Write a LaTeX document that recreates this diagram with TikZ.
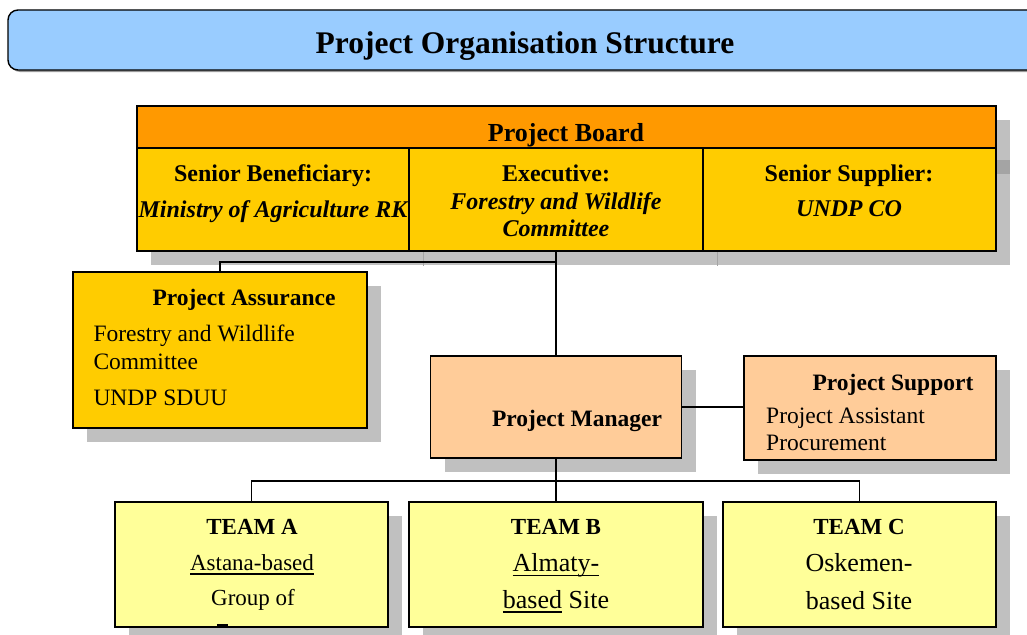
\documentclass[tikz,border=0pt]{standalone}
\usepackage{fontspec}
\setmainfont{Liberation Serif}
\usetikzlibrary{shadows}
\definecolor{titleblue}{HTML}{99CCFF}
\definecolor{boardorange}{HTML}{FF9900}
\definecolor{gold}{HTML}{FFCC00}
\definecolor{peach}{HTML}{FFCC99}
\definecolor{paleyellow}{HTML}{FFFF99}
\definecolor{shadowgray}{HTML}{C0C0C0}
\definecolor{shadowdark}{HTML}{A4A4A4}
\newcommand\fsz[1]{\fontsize{#1}{#1}\selectfont}
% underline with a heavier rule set a little below the baseline
\newcommand\ulword[1]{\setbox0\hbox{#1}\rlap{\rule[-4.5pt]{\wd0}{1.5pt}}\box0\relax}
\begin{document}
\begin{tikzpicture}[x=1pt,y=-1pt,
  box/.style={draw=black,line width=1.4pt,inner sep=0pt,outer sep=0pt},
  shadowed/.style={drop shadow={shadow xshift=14pt,shadow yshift=-14pt,fill=shadowgray,opacity=1}},
  conn/.style={draw=black,line width=1.4pt},
  lbl/.style={inner sep=0pt,anchor=base},
  lbll/.style={inner sep=0pt,anchor=base west},
  hd/.style={font=\bfseries\fsz{23.5}},
  bodytxt/.style={font=\fsz{23.5}},
]
\useasboundingbox (0,0) rectangle (1027,634);
\clip (0,0) rectangle (1027,634);

% title banner
\fill[gray!80,rounded corners=10pt] (10,12) rectangle (1050,72);
\filldraw[fill=titleblue,draw=black,line width=1.4pt,rounded corners=10pt] (8,10) rectangle (1048,70);
\node[lbl,font=\bfseries\fsz{31.5}] (title) at (525,54) {Project Organisation Structure};

% project board
\node[box,shadowed,fill=gold,minimum width=859pt,minimum height=145pt] (board) at (566.5,178.5) {};
\fill[shadowdark] (997,160) rectangle (1010,174);
\draw[shadowdark,line width=1pt] (423,252) -- (423,266) (717,252) -- (717,266);
\node[box,fill=boardorange,minimum width=859pt,minimum height=42pt] (hdr) at (566.5,127) {};
\node[box,fill=gold,minimum width=272pt,minimum height=103pt] (sb) at (273,199.5) {};
\node[box,fill=gold,minimum width=294pt,minimum height=103pt] (ex) at (556,199.5) {};
\node[box,fill=gold,minimum width=293pt,minimum height=103pt] (ss) at (849.5,199.5) {};

\node[lbl,font=\bfseries\fsz{26}] (hdrtxt) at (566,141.7) {Project Board};
\node[lbl,font=\bfseries\fsz{24}] (sbt1) at (273,181.7) {Senior Beneficiary:};
\node[lbl,font=\bfseries\itshape\fsz{24}] (sbt2) at (273,217) {Ministry of Agriculture RK};
\node[lbl,font=\bfseries\fsz{24}] (ext1) at (556,181.7) {Executive:};
\node[lbl,font=\bfseries\itshape\fsz{24}] (ext2) at (556,209) {Forestry and Wildlife};
\node[lbl,font=\bfseries\itshape\fsz{24}] (ext3) at (556,236.7) {Committee};
\node[lbl,font=\bfseries\fsz{24}] (sst1) at (849,181.7) {Senior Supplier:};
\node[lbl,font=\bfseries\itshape\fsz{24}] (sst2) at (849,216.7) {UNDP CO};

% project assurance
\node[box,shadowed,fill=gold,minimum width=294pt,minimum height=156pt] (pa) at (220,350) {};
\node[lbl,hd] (pat1) at (244,305.7) {Project Assurance};
\node[lbll,bodytxt] (pat2) at (93.3,341) {Forestry and Wildlife};
\node[lbll,bodytxt] (pat3) at (93.3,369) {Committee};
\node[lbll,bodytxt] (pat4) at (93.3,405) {UNDP SDUU};

% project manager and support
\node[box,shadowed,fill=peach,minimum width=251pt,minimum height=102pt] (pm) at (556,407) {};
\node[lbl,hd] (pmt) at (577,426) {Project Manager};
\node[box,shadowed,fill=peach,minimum width=252pt,minimum height=104pt] (ps) at (870,408) {};
\node[lbl,hd] (pst1) at (893,390) {Project Support};
\node[lbll,bodytxt] (pst2) at (766,423) {Project Assistant};
\node[lbll,bodytxt] (pst3) at (766,450) {Procurement};

% teams
\node[box,shadowed,fill=paleyellow,minimum width=273pt,minimum height=125pt] (ta) at (251.5,564.5) {};
\node[box,shadowed,fill=paleyellow,minimum width=294pt,minimum height=125pt] (tb) at (556,564.5) {};
\node[box,shadowed,fill=paleyellow,minimum width=273pt,minimum height=125pt] (tc) at (859.5,564.5) {};

\node[lbl,font=\bfseries\fsz{23}] (tat1) at (252,534) {TEAM A};
\node[lbl,font=\fsz{23}] (tat2) at (252,570) {\ulword{Astana-based}};
\node[lbl,font=\fsz{23}] (tat3) at (253,605) {Group of};
\fill (217,623.5) rectangle (228,626.5);

\node[lbl,font=\bfseries\fsz{23}] (tbt1) at (556,534) {TEAM B};
\node[lbl,font=\fsz{26}] (tbt2) at (556,571.7) {\ulword{Almaty-}};
\node[lbl,font=\fsz{26}] (tbt3) at (556,608.3) {\ulword{based} Site};

\node[lbl,font=\bfseries\fsz{23}] (tct1) at (859,534) {TEAM C};
\node[lbl,font=\fsz{26}] (tct2) at (859,571.7) {Oskemen-};
\node[lbl,font=\fsz{26}] (tct3) at (859,609) {based Site};

% connectors
\coordinate (j1) at (556,262);
\coordinate (j2) at (556,481);
\draw[conn] (ex.south) -- (pm.north);
\draw[conn] (j1) -| (pa.north);
\draw[conn] (pm.east) -- (pm.east -| ps.west);
\draw[conn] (pm.south) -- (tb.north);
\draw[conn] (ta.north) |- (j2) -| (tc.north);
\end{tikzpicture}
\end{document}
